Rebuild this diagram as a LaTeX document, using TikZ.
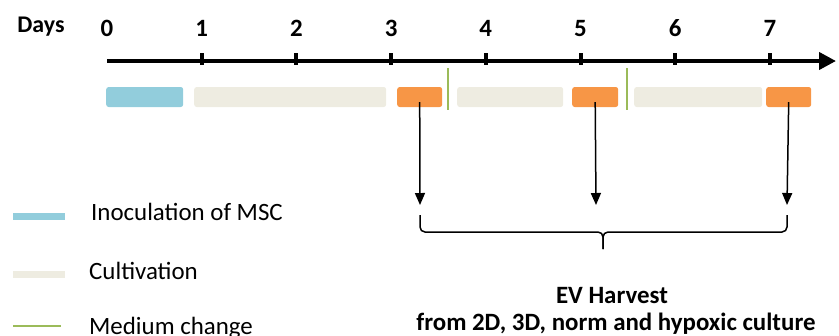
\documentclass[tikz,border=0pt]{standalone}
\usepackage{fontspec}
\setmainfont{Carlito}
\usetikzlibrary{arrows.meta}
\definecolor{inoc}{HTML}{92CDDC}
\definecolor{cult}{HTML}{EEECE1}
\definecolor{harv}{HTML}{F79646}
\definecolor{medium}{HTML}{9BBB59}
\tikzset{
  bar/.style={rounded corners=2.5bp, minimum height=20bp, inner sep=0pt, anchor=west},
  daylbl/.style={font=\fontsize{25}{25}\selectfont\bfseries, inner sep=0pt, anchor=base},
  tick/.style={fill=black, minimum width=4bp, minimum height=12bp, inner sep=0pt},
  legtxt/.style={font=\fontsize{25}{25}\selectfont, anchor=base west, inner sep=0pt},
  harvtxt/.style={font=\fontsize{25}{25}\selectfont\bfseries, anchor=base, inner sep=0pt},
  harvarrow/.style={-{Triangle[length=12bp,width=10bp]}, line width=1.5bp},
  medline/.style={medium, line width=2.5bp},
}
\begin{document}
\begin{tikzpicture}[x=1bp,y=-1bp]
\useasboundingbox (0,0) rectangle (839,335);
% axis
\coordinate (axs) at (107,61);
\coordinate (axe) at (836,61);
\draw[line width=4bp, -{Triangle[length=17bp,width=17bp]}] (axs) -- (axe);
\node[daylbl, font=\fontsize{24}{24}\selectfont\bfseries] (days) at (41,32) {Days};
\foreach \i in {0,...,7} {
  \node[daylbl] (d\i) at ({107+94.7*\i},36) {\i};
}
\foreach \i in {1,...,7} {
  \node[tick] (t\i) at ({107+94.7*\i},59) {};
}
% bars
\node[bar, fill=inoc, minimum width=77bp] (b0) at (106,97) {};
\node[bar, fill=cult, minimum width=192bp] (c1) at (194,97) {};
\node[bar, fill=harv, minimum width=45bp] (h1) at (397,97) {};
\node[bar, fill=cult, minimum width=106bp] (c2) at (457,97) {};
\node[bar, fill=harv, minimum width=46bp] (h2) at (572,97) {};
\node[bar, fill=cult, minimum width=128bp] (c3) at (634,97) {};
\node[bar, fill=harv, minimum width=45bp] (h3) at (766,97) {};
% medium change lines
\coordinate (m1a) at (448,68); \coordinate (m1b) at (448,110);
\coordinate (m2a) at (627,68); \coordinate (m2b) at (627,110);
\draw[medline] (m1a) -- (m1b);
\draw[medline] (m2a) -- (m2b);
% harvest arrows
\coordinate (a1) at (420,205);
\coordinate (a2) at (596,205);
\coordinate (a3) at (787,205);
\draw[harvarrow] ([yshift=5bp]h1.south) -- (a1);
\draw[harvarrow] ([yshift=5bp]h2.south) -- (a2);
\draw[harvarrow] ([yshift=5bp]h3.south) -- (a3);
% brace
\coordinate (bl) at (420,215);
\coordinate (br) at (787,215);
\coordinate (bm) at (603,232);
\coordinate (bt) at (603,249);
\draw[line width=1.5bp, rounded corners=5bp] (bl) |- (bm) -- (bt);
\draw[line width=1.5bp, rounded corners=5bp] (br) |- (bm) -- (bt);
% harvest text
\node[harvtxt] (ev1) at (612,303) {EV Harvest};
\node[harvtxt] (ev2) at (616,330) {from 2D, 3D, norm and hypoxic culture};
% legend
\coordinate (l1a) at (13,216); \coordinate (l1b) at (65,216);
\coordinate (l2a) at (13,274); \coordinate (l2b) at (65,274);
\coordinate (l3a) at (13,326); \coordinate (l3b) at (61,326);
\draw[inoc, line width=7bp] (l1a) -- (l1b);
\draw[cult, line width=7bp] (l2a) -- (l2b);
\draw[medline] (l3a) -- (l3b);
\node[legtxt] (lt1) at (91,220) {Inoculation of MSC};
\node[legtxt] (lt2) at (89,279) {Cultivation};
\node[legtxt] (lt3) at (89,334) {Medium change};
\end{tikzpicture}
\end{document}
